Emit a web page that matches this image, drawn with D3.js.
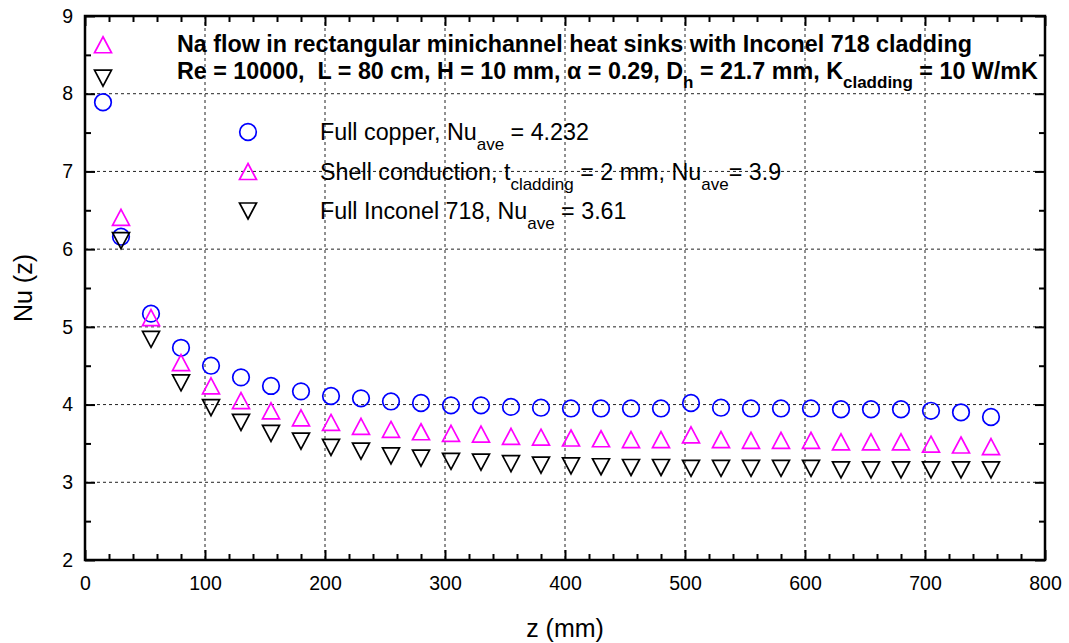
<!DOCTYPE html>
<html>
<head>
<meta charset="utf-8">
<script src="https://cdn.jsdelivr.net/npm/d3@7"></script>
<style>
  body { margin: 0; background: #fff; }
  svg { font-family: "Liberation Sans", Arial, sans-serif; }
</style>
</head>
<body>
<div id="chart"></div>
<script>
const width = 1069;
const height = 643;
const margin = {top: 16, right: 24, bottom: 83, left: 85};

// data
const zMm = [15, 30, 55, 80, 105, 130, 155, 180, 205, 230, 255, 280, 305, 330, 355, 380,
             405, 430, 455, 480, 505, 530, 555, 580, 605, 630, 655, 680, 705, 730, 755];
const nuCopper = [7.89, 6.16, 5.17, 4.73, 4.50, 4.35, 4.24, 4.17, 4.11, 4.08, 4.04, 4.02, 3.99, 3.99, 3.97, 3.96,
                  3.95, 3.95, 3.95, 3.95, 4.02, 3.96, 3.95, 3.95, 3.95, 3.94, 3.94, 3.94, 3.92, 3.90, 3.84];
const nuShell = [8.63, 6.41, 5.12, 4.54, 4.24, 4.05, 3.92, 3.83, 3.77, 3.72, 3.68, 3.65, 3.63, 3.62, 3.59, 3.58,
                 3.57, 3.56, 3.55, 3.55, 3.61, 3.55, 3.54, 3.54, 3.54, 3.52, 3.52, 3.52, 3.49, 3.48, 3.46];
const nuInconel = [8.20, 6.11, 4.84, 4.28, 3.96, 3.77, 3.63, 3.53, 3.45, 3.40, 3.34, 3.31, 3.27, 3.26, 3.24, 3.22,
                   3.21, 3.20, 3.19, 3.19, 3.18, 3.18, 3.18, 3.18, 3.18, 3.16, 3.16, 3.16, 3.16, 3.16, 3.16];

const xTicks = [0, 100, 200, 300, 400, 500, 600, 700, 800];
const yTicks = [2, 3, 4, 5, 6, 7, 8, 9];

const w = width - margin.left - margin.right;
const h = height - margin.top - margin.bottom;

const x = d3.scaleLinear().domain([0, 800]).range([0, w]);
const y = d3.scaleLinear().domain([2, 9]).range([h, 0]);

const svg = d3.select("#chart").append("svg")
    .attr("width", width)
    .attr("height", height);

const g = svg.append("g").attr("transform", `translate(${margin.left},${margin.top})`);

// dashed grid
g.append("g").selectAll("line")
    .data(xTicks.slice(1, -1))
    .enter().append("line")
        .attr("x1", d => x(d)).attr("x2", d => x(d))
        .attr("y1", 0).attr("y2", h)
        .attr("stroke", "#222").attr("stroke-width", 1).attr("stroke-dasharray", "3,3");
g.append("g").selectAll("line")
    .data(yTicks.slice(1, -1))
    .enter().append("line")
        .attr("y1", d => y(d)).attr("y2", d => y(d))
        .attr("x1", 0).attr("x2", w)
        .attr("stroke", "#222").attr("stroke-width", 1).attr("stroke-dasharray", "3,3");

// axes, ticks inward on all four sides
const xMinor = d3.range(0, 801, 20).filter(v => v % 100 !== 0);
const yMinor = d3.range(2.5, 9, 1);

function styleAxis(sel) {
    sel.select(".domain").remove();
    sel.selectAll(".tick line").attr("stroke", "#000").attr("stroke-width", 2);
    sel.selectAll("text").attr("font-size", 19.5).attr("fill", "#000")
        .attr("font-family", "Liberation Sans, Arial, sans-serif");
}

g.append("g").attr("transform", `translate(0,${h})`)
    .call(d3.axisBottom(x).tickValues(xTicks).tickSize(-10).tickPadding(16).tickFormat(d3.format("d")))
    .call(styleAxis);
g.append("g").attr("transform", `translate(0,${h})`)
    .call(d3.axisBottom(x).tickValues(xMinor).tickSize(-6).tickFormat(""))
    .call(styleAxis);
g.append("g")
    .call(d3.axisTop(x).tickValues(xTicks).tickSize(-10).tickFormat(""))
    .call(styleAxis);
g.append("g")
    .call(d3.axisTop(x).tickValues(xMinor).tickSize(-6).tickFormat(""))
    .call(styleAxis);

g.append("g")
    .call(d3.axisLeft(y).tickValues(yTicks).tickSize(-10).tickPadding(12).tickFormat(d3.format("d")))
    .call(styleAxis);
g.append("g")
    .call(d3.axisLeft(y).tickValues(yMinor).tickSize(-6).tickFormat(""))
    .call(styleAxis);
g.append("g").attr("transform", `translate(${w},0)`)
    .call(d3.axisRight(y).tickValues(yTicks).tickSize(-10).tickFormat(""))
    .call(styleAxis);
g.append("g").attr("transform", `translate(${w},0)`)
    .call(d3.axisRight(y).tickValues(yMinor).tickSize(-6).tickFormat(""))
    .call(styleAxis);

g.append("rect")
    .attr("width", w).attr("height", h)
    .attr("fill", "none").attr("stroke", "#000").attr("stroke-width", 2.5);

// marker shapes
const markers = {
    circle: "M8.3,0A8.3,8.3 0 1,1 -8.3,0A8.3,8.3 0 1,1 8.3,0Z",
    up: "M0,-8L8.5,8L-8.5,8Z",
    down: "M0,8L8.5,-8L-8.5,-8Z"
};

const series = [
    {name: "copper", values: nuCopper, color: "#0000ff", marker: "circle"},
    {name: "shell", values: nuShell, color: "#ff00ff", marker: "up"},
    {name: "inconel", values: nuInconel, color: "#000000", marker: "down"}
];

series.forEach(s => {
    g.append("g").selectAll("path")
        .data(zMm.map((z, i) => ({z: z, v: s.values[i]})))
        .enter().append("path")
            .attr("d", markers[s.marker])
            .attr("transform", d => `translate(${x(d.z)},${y(d.v)})`)
            .attr("fill", "none")
            .attr("stroke", s.color)
            .attr("stroke-width", 1.7);
});

// legend
const legendRows = [
    {marker: "circle", color: "#0000ff", parts: [["Full copper, Nu", 0], ["ave", 1], [" = 4.232", 0]]},
    {marker: "up", color: "#ff00ff", parts: [["Shell conduction, t", 0], ["cladding", 1], [" = 2 mm, Nu", 0], ["ave", 1], ["= 3.9", 0]]},
    {marker: "down", color: "#000000", parts: [["Full Inconel 718, Nu", 0], ["ave", 1], [" = 3.61", 0]]}
];

function subText(sel, parts, size, subSize, shift) {
    let state = 0;
    parts.forEach(([t, sub]) => {
        const dy = sub === state ? 0 : (sub ? shift : -shift);
        state = sub;
        sel.append("tspan")
            .attr("dy", dy)
            .attr("font-size", sub ? subSize : size)
            .text(t);
    });
}

const legend = svg.append("g");
legendRows.forEach((r, i) => {
    const cy = 132 + i * 39.5;
    legend.append("path")
        .attr("d", markers[r.marker])
        .attr("transform", `translate(248,${cy})`)
        .attr("fill", "none").attr("stroke", r.color).attr("stroke-width", 1.7);
    const t = legend.append("text")
        .attr("x", 320).attr("y", cy + 8)
        .attr("fill", "#000")
        .style("white-space", "pre");
    subText(t, r.parts, 23.3, 17, 10);
});

// title
svg.append("text")
    .attr("x", 177).attr("y", 52)
    .attr("font-size", 23.3).attr("font-weight", "bold")
    .text("Na flow in rectangular minichannel heat sinks with Inconel 718 cladding");

const t2 = svg.append("text")
    .attr("x", 177).attr("y", 79)
    .attr("font-size", 23.3).attr("font-weight", "bold")
    .style("white-space", "pre");
subText(t2, [["Re = 10000,  L = 80 cm, H = 10 mm, \u03b1 = 0.29, D", 0], ["h", 1],
             [" = 21.7 mm, K", 0], ["cladding", 1], [" = 10 W/mK", 0]], 23.3, 17, 9);

// axis titles
svg.append("text")
    .attr("x", margin.left + w / 2).attr("y", 637)
    .attr("text-anchor", "middle").attr("font-size", 25)
    .text("z (mm)");
svg.append("text")
    .attr("transform", `translate(32,${margin.top + h / 2}) rotate(-90)`)
    .attr("text-anchor", "middle").attr("font-size", 25)
    .text("Nu (z)");
</script>
</body>
</html>
